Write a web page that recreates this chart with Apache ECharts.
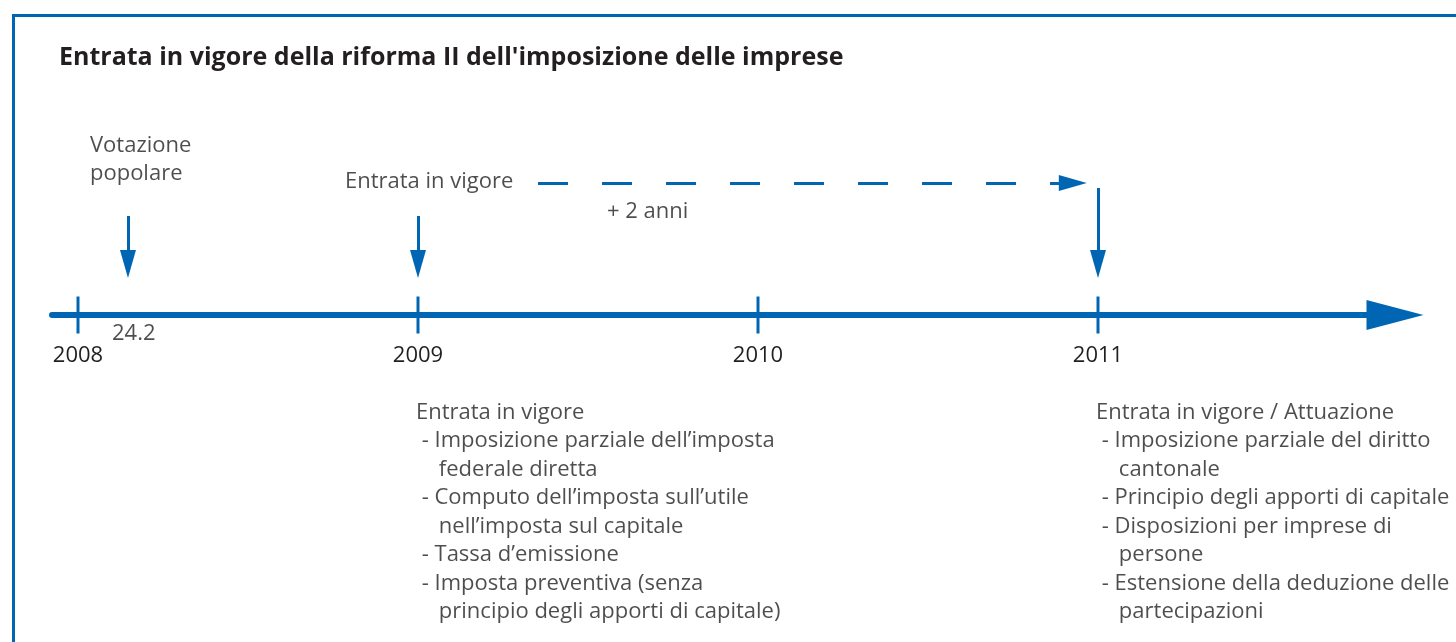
<!DOCTYPE html>
<html>
<head>
<meta charset="utf-8">
<script src="https://cdn.jsdelivr.net/npm/echarts@6/dist/echarts.min.js"></script>
<style>
html,body{margin:0;padding:0;background:#fff;}
#c{width:1456px;height:642px;}
</style>
</head>
<body>
<div id="c"></div>
<script>
// ---- data ----
const title = "Entrata in vigore della riforma II dell'imposizione delle imprese";
const years = [2008, 2009, 2010, 2011];
const voteDate = 2008.147;     // 24.2.2008
const voteLabel = "24.2";
const entryDate = 2009;
const implDate = 2011;
const dashStart = 2009.353;
const dashEnd = 2010.926;
const voteText = "Votazione\npopolare";
const entryText = "Entrata in vigore";
const plusText = "+ 2 anni";
const entryList = [
  "Entrata in vigore",
  " - Imposizione parziale dell’imposta",
  "    federale diretta",
  " - Computo dell’imposta sull’utile",
  "    nell’imposta sul capitale",
  " - Tassa d’emissione",
  " - Imposta preventiva (senza",
  "    principio degli apporti di capitale)"
];
const implList = [
  "Entrata in vigore / Attuazione",
  " - Imposizione parziale del diritto",
  "    cantonale",
  " - Principio degli apporti di capitale",
  " - Disposizioni per imprese di",
  "    persone",
  " - Estensione della deduzione delle",
  "    partecipazioni"
];

const BLUE = '#0066b3';
const TXT = '#231f20';
const FONT = 'Open Sans';
const FS = 22;

const chart = echarts.init(document.getElementById('c'), null, {renderer: 'canvas'});

function textPoint(x, y, text, opts) {
  return {
    value: [x, y],
    label: Object.assign({
      show: true, formatter: text, position: [0, 0],
      align: 'left', verticalAlign: 'middle',
      color: TXT, fontFamily: FONT, fontSize: FS, lineHeight: 28.5
    }, opts || {})
  };
}

const option = {
  animation: false,
  backgroundColor: '#fff',
  title: {
    text: title, left: 54, top: 40,
    textStyle: {fontFamily: FONT, fontWeight: 'bold', fontSize: 25, color: TXT}
  },
  graphic: [{
    type: 'rect', left: 11, top: 13, shape: {width: 1500, height: 700},
    style: {fill: 'none', stroke: BLUE, lineWidth: 3}, silent: true
  }],
  grid: {left: 52, width: 1343, top: 15, height: 300, containLabel: false, outerBoundsMode: 'none'},
  xAxis: {
    type: 'value', min: 2008 - 26/340, max: 2008 + (1395-78)/340,
    axisLine: {show: true, onZero: false, symbol: ['none', 'triangle'], symbolSize: [30, 57],
      lineStyle: {color: BLUE, width: 6}},
    axisTick: {show: false},
    splitLine: {show: false},
    axisLabel: {show: true, customValues: years, formatter: v => String(Math.round(v)),
      margin: 29.5, color: TXT, fontFamily: FONT, fontSize: FS}
  },
  yAxis: {type: 'value', min: 0, max: 10, show: false, splitLine: {show: false}},
  series: [
    { // year ticks crossing the line
      type: 'scatter', symbol: 'rect', symbolSize: [3, 37], silent: true, clip: false,
      itemStyle: {color: BLUE, opacity: 1}, data: years.map(y => [y, 0]), z: 5
    },
    { // solid down arrows
      type: 'lines', coordinateSystem: 'cartesian2d', silent: true, clip: false,
      symbol: ['none', 'triangle'], symbolSize: [[16, 28], [16, 28]],
      lineStyle: {color: BLUE, width: 3, opacity: 1},
      data: [
        {coords: [[voteDate, 3.3], [voteDate, 1.7]]},
        {coords: [[entryDate, 3.3], [entryDate, 1.7]]},
        {coords: [[implDate, 4.233], [implDate, 1.7]]}
      ]
    },
    { // dashed +2 years arrow
      type: 'lines', coordinateSystem: 'cartesian2d', silent: true, clip: false,
      symbol: ['none', 'triangle'], symbolSize: [[16, 28], [16, 28]],
      lineStyle: {color: BLUE, width: 3, opacity: 1, type: [30, 34]},
      data: [{coords: [[dashStart, 4.4], [dashEnd, 4.4]]}]
    },
    { // texts
      type: 'scatter', symbolSize: 0, silent: true, z: 10, clip: false,
      data: [
        textPoint(voteDate, 5.18, voteText, {offset: [-38, 0]}),
        textPoint(entryDate, 4.433, entryText, {offset: [-73, 0]}),
        textPoint(entryDate, 3.433, plusText, {offset: [189, 0]}),
        textPoint(voteDate, -0.63, voteLabel, {offset: [-16, 0]}),
        textPoint(entryDate, -3.233, entryList.join('\n'), {offset: [-2, -14], verticalAlign: 'top'}),
        textPoint(implDate, -3.233, implList.join('\n'), {offset: [-2, -14], verticalAlign: 'top'})
      ]
    }
  ]
};
chart.setOption(option);
</script>
</body>
</html>
